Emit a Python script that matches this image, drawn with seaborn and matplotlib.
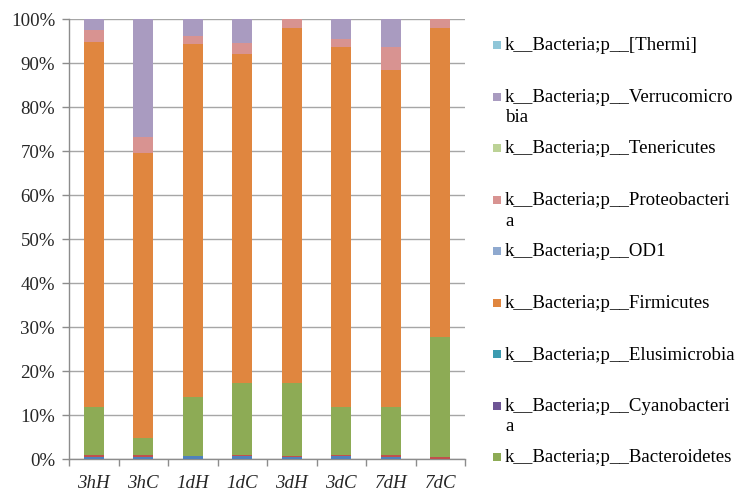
import numpy as np
import pandas as pd
import matplotlib
matplotlib.use("Agg")
import matplotlib.pyplot as plt
from matplotlib.patches import Rectangle
from matplotlib.ticker import FixedLocator, PercentFormatter
import seaborn as sns

sns.set_style("white")
plt.rcParams['font.family'] = ['Liberation Serif', 'DejaVu Serif']

categories = ["3hH", "3hC", "1dH", "1dC", "3dH", "3dC", "7dH", "7dC"]

# stacked series, bottom to top (percent)
other_blue = [0.5, 0.4, 0.6, 0.7, 0.5, 0.7, 0.5, 0.1]
other_red = [0.5, 0.4, 0.1, 0.1, 0.2, 0.1, 0.4, 0.3]
bacteroidetes = [10.8, 3.9, 13.4, 16.5, 16.6, 11.0, 10.9, 27.4]
cyanobacteria = [0.0, 0.0, 0.0, 0.0, 0.0, 0.0, 0.0, 0.0]
elusimicrobia = [0.0, 0.0, 0.0, 0.0, 0.0, 0.0, 0.0, 0.0]
firmicutes = [82.9, 64.9, 80.2, 74.7, 80.6, 81.8, 76.6, 70.1]
od1 = [0.0, 0.0, 0.0, 0.0, 0.0, 0.0, 0.0, 0.0]
proteobacteria = [2.8, 3.6, 1.9, 2.5, 2.1, 1.9, 5.3, 2.1]
tenericutes = [0.0, 0.0, 0.0, 0.0, 0.0, 0.0, 0.0, 0.0]
verrucomicrobia = [2.5, 26.8, 3.8, 5.5, 0.0, 4.5, 6.3, 0.0]
thermi = [0.0, 0.0, 0.0, 0.0, 0.0, 0.0, 0.0, 0.0]

series = [
    (None, other_blue, "#4F81BD"),
    (None, other_red, "#C0504D"),
    ("k__Bacteria;p__Bacteroidetes", bacteroidetes, "#8DAB55"),
    ("k__Bacteria;p__Cyanobacteri\na", cyanobacteria, "#6E5595"),
    ("k__Bacteria;p__Elusimicrobia", elusimicrobia, "#3C9BB0"),
    ("k__Bacteria;p__Firmicutes", firmicutes, "#E0863F"),
    ("k__Bacteria;p__OD1", od1, "#8FA9CF"),
    ("k__Bacteria;p__Proteobacteri\na", proteobacteria, "#D89391"),
    ("k__Bacteria;p__Tenericutes", tenericutes, "#BCD296"),
    ("k__Bacteria;p__Verrucomicro\nbia", verrucomicrobia, "#A99BC0"),
    ("k__Bacteria;p__[Thermi]", thermi, "#8FC6D8"),
]

FS = 13.6
W, H = 749, 502
fig = plt.figure(figsize=(W / 100, H / 100), dpi=100)
ax = fig.add_axes([69 / W, 1 - 460 / H, (465 - 69) / W, (460 - 20) / H])

# cumulative stacking: draw from top layer down so each layer covers the one above
cum = np.zeros(len(categories))
cums = []
for name, vals, col in series:
    cum = cum + np.array(vals)
    cums.append(cum.copy())
for (name, vals, col), c in reversed(list(zip(series, cums))):
    df = pd.DataFrame({"cat": categories, "val": c})
    sns.barplot(data=df, x="cat", y="val", order=categories, color=col,
                saturation=1, width=0.4, linewidth=0, ax=ax, zorder=3)

ax.set_xlim(-0.5, len(categories) - 0.5)
ax.set_ylim(0, 100)
ax.set_xlabel("")
ax.set_ylabel("")

# grid & spines
ax.yaxis.set_major_locator(FixedLocator(np.arange(0, 101, 10)))
ax.yaxis.set_major_formatter(PercentFormatter(decimals=0))
ax.grid(axis="y", color="#A6A6A6", linewidth=1.0, zorder=0)
ax.set_axisbelow(True)
for s in ["top", "right"]:
    ax.spines[s].set_visible(False)
for s in ["left", "bottom"]:
    ax.spines[s].set_color("#8C8C8C")
    ax.spines[s].set_linewidth(1.0)

ax.tick_params(axis="y", which="major", length=5, width=1, color="#8C8C8C",
               direction="out", pad=5, labelsize=FS, left=True)
ax.set_xticks(range(len(categories)))
ax.set_xticklabels(categories, fontstyle="italic", fontsize=FS)
ax.tick_params(axis="x", which="major", length=0, pad=11, bottom=True)
ax.set_xticks(np.arange(-0.5, len(categories), 1), minor=True)
ax.tick_params(axis="x", which="minor", length=5, width=1, color="#8C8C8C",
               direction="out", bottom=True)

# legend (Excel-style, evenly spaced, top entry first)
leg_items = [(n, c) for n, v, c in series if n is not None][::-1]
y0, dy = 46, 51.5
for i, (name, col) in enumerate(leg_items):
    yc = y0 + i * dy
    fig.add_artist(Rectangle((493 / W, 1 - (yc + 4) / H), 8 / W, 8 / H,
                             transform=fig.transFigure, facecolor=col,
                             edgecolor="none"))
    lines = name.split("\n")
    for j, ln in enumerate(lines):
        fig.text(505 / W, 1 - (yc + j * 20.5) / H, ln, va="center", ha="left",
                 fontsize=FS, color="black")

fig.savefig("out.png", dpi=100)
